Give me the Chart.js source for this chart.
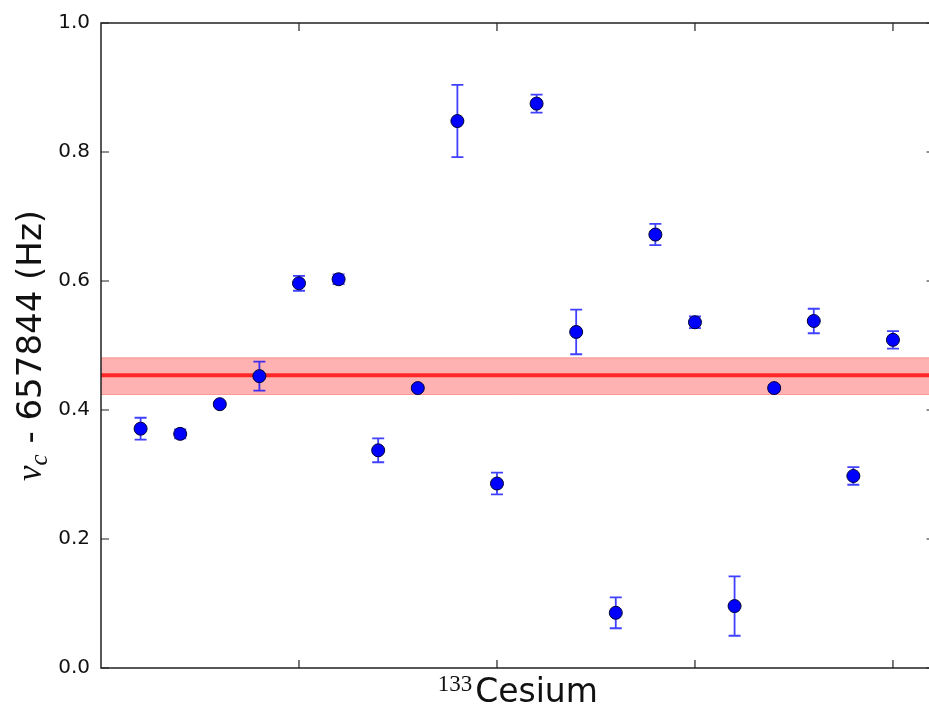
<!DOCTYPE html>
<html>
<head>
<meta charset="utf-8">
<script src="https://cdn.jsdelivr.net/npm/chart.js@4.4.1/dist/chart.umd.min.js"></script>
<style>
    html, body {
        margin: 0;
        padding: 0;
        overflow: hidden;
        background: #fff;
    }
    canvas {
        display: block;
    }
</style>
</head>
<body>
<canvas id="myChart" width="929" height="706"></canvas>
<script>
let runNumber = [1, 2, 3, 4, 5, 6, 7, 8, 9, 10, 11, 12, 13, 14, 15, 16, 17, 18, 19, 20];
let freqOffset = [0.371, 0.363, 0.409, 0.4525, 0.5965, 0.6027, 0.3375, 0.434, 0.848, 0.286,
    0.875, 0.521, 0.0856, 0.672, 0.536, 0.096, 0.434, 0.538, 0.2977, 0.5088];
let freqError = [0.017, 0.007, 0.003, 0.0225, 0.0116, 0.0075, 0.0185, 0.004, 0.056, 0.0168,
    0.014, 0.0346, 0.024, 0.0165, 0.009, 0.046, 0.005, 0.019, 0.0136, 0.0136];
let meanOffset = 0.454;
let bandLow = 0.424;
let bandHigh = 0.481;
// the original axes run to x = 21.05, but the picture is cut at about 20.91
let xRange = [0, 20.91];
let xAxisEnd = 21.05;
let xTicks = [5, 10, 15, 20];
let yTicks = [0, 0.2, 0.4, 0.6, 0.8, 1.0];

// error bars go under the markers
const errorBars = {
    id: 'errorBars',
    beforeDatasetDraw(chart, args) {
        if (args.index !== 0) return;
        let ctx = chart.ctx;
        let xs = chart.scales.x;
        let ys = chart.scales.y;
        ctx.save();
        ctx.strokeStyle = 'rgba(0, 0, 255, 0.75)';
        ctx.lineWidth = 1.8;
        for (let i = 0; i < runNumber.length; i++) {
            let px = xs.getPixelForValue(runNumber[i]);
            let top = ys.getPixelForValue(freqOffset[i] + freqError[i]);
            let bot = ys.getPixelForValue(freqOffset[i] - freqError[i]);
            ctx.beginPath();
            ctx.moveTo(px, top);
            ctx.lineTo(px, bot);
            ctx.moveTo(px - 6, top);
            ctx.lineTo(px + 6, top);
            ctx.moveTo(px - 6, bot);
            ctx.lineTo(px + 6, bot);
            ctx.stroke();
        }
        ctx.restore();
    }
};

// box, inward ticks and the two axis titles
const frameAndTitles = {
    id: 'frameAndTitles',
    afterDraw(chart) {
        let ctx = chart.ctx;
        let a = chart.chartArea;
        let xs = chart.scales.x;
        let ys = chart.scales.y;
        let right = xs.getPixelForValue(xAxisEnd);
        ctx.save();
        ctx.strokeStyle = '#222';
        ctx.lineWidth = 1.5;
        ctx.strokeRect(a.left, a.top, right - a.left, a.bottom - a.top);
        ctx.lineWidth = 1.2;
        ctx.beginPath();
        for (let v of yTicks) {
            let py = ys.getPixelForValue(v);
            ctx.moveTo(a.left, py);
            ctx.lineTo(a.left + 8, py);
            ctx.moveTo(right, py);
            ctx.lineTo(right - 8, py);
        }
        for (let v of xTicks) {
            let px = xs.getPixelForValue(v);
            ctx.moveTo(px, a.bottom);
            ctx.lineTo(px, a.bottom - 8);
            ctx.moveTo(px, a.top);
            ctx.lineTo(px, a.top + 8);
        }
        ctx.stroke();

        ctx.fillStyle = '#111';
        ctx.textBaseline = 'alphabetic';
        ctx.textAlign = 'left';

        // x title: superscript 133 + Cesium
        let supFont = '23px "Liberation Serif"';
        let mainFont = '33px "DejaVu Sans"';
        ctx.font = supFont;
        let wSup = ctx.measureText('133').width;
        ctx.font = mainFont;
        let wMain = ctx.measureText('Cesium').width;
        let cx = (a.left + right) / 2;
        let x0 = cx - (wSup + 3 + wMain) / 2;
        ctx.font = supFont;
        ctx.fillText('133', x0, 691);
        ctx.font = mainFont;
        ctx.fillText('Cesium', x0 + wSup + 3, 702);

        // y title: nu_c - 657844 (Hz), rotated
        let nuFont = 'italic 35px "Liberation Serif"';
        let subFont = 'italic 25px "Liberation Serif"';
        let restFont = '34px "DejaVu Sans"';
        let rest = ' - 657844 (Hz)';
        ctx.font = nuFont;
        let wNu = ctx.measureText('ν').width;
        ctx.font = subFont;
        let wC = ctx.measureText('c').width;
        ctx.font = restFont;
        let wRest = ctx.measureText(rest).width;
        let total = wNu + wC + wRest;
        let cy = (a.top + a.bottom) / 2;
        ctx.translate(41, cy);
        ctx.rotate(-Math.PI / 2);
        let s = -total / 2;
        ctx.font = nuFont;
        ctx.fillText('ν', s, 0);
        ctx.font = subFont;
        ctx.fillText('c', s + wNu, 6);
        ctx.font = restFont;
        ctx.fillText(rest, s + wNu + wC, 0);
        ctx.restore();
    }
};

const ctx = document.getElementById('myChart');
new Chart(ctx, {
    type: 'scatter',
    data: {
        datasets: [{
            label: 'measurements',
            data: runNumber.map((x, i) => ({ x: x, y: freqOffset[i] })),
            pointRadius: 6.5,
            pointHoverRadius: 6.5,
            backgroundColor: '#0000ff',
            borderColor: '#000033',
            borderWidth: 1
        }, {
            type: 'line',
            label: 'mean',
            data: [{ x: 0, y: meanOffset }, { x: xAxisEnd, y: meanOffset }],
            borderColor: 'rgb(255, 40, 40)',
            borderWidth: 4,
            pointRadius: 0,
            fill: false
        }, {
            type: 'line',
            label: 'band low',
            data: [{ x: 0, y: bandLow }, { x: xAxisEnd, y: bandLow }],
            borderColor: 'rgba(255, 0, 0, 0.3)',
            borderWidth: 1,
            pointRadius: 0,
            fill: false
        }, {
            type: 'line',
            label: 'band high',
            data: [{ x: 0, y: bandHigh }, { x: xAxisEnd, y: bandHigh }],
            borderColor: 'rgba(255, 0, 0, 0.3)',
            backgroundColor: 'rgba(255, 0, 0, 0.3)',
            borderWidth: 1,
            pointRadius: 0,
            fill: '-1'
        }]
    },
    options: {
        responsive: false,
        animation: false,
        devicePixelRatio: 1,
        layout: {
            autoPadding: false,
            padding: { top: 22, right: 0, left: 0, bottom: 0 }
        },
        plugins: {
            legend: { display: false },
            tooltip: { enabled: false }
        },
        scales: {
            x: {
                type: 'linear',
                min: xRange[0],
                max: xRange[1],
                grid: { display: false, drawTicks: false },
                border: { display: false },
                ticks: { display: false },
                afterFit(scale) { scale.height = 38; }
            },
            y: {
                min: 0,
                max: 1,
                grid: { display: false, drawTicks: false },
                border: { display: false },
                ticks: {
                    stepSize: 0.2,
                    padding: 11,
                    color: '#111',
                    font: { family: 'DejaVu Sans', size: 20 },
                    callback: (v) => v.toFixed(1)
                },
                afterFit(scale) { scale.width = 101; }
            }
        }
    },
    plugins: [errorBars, frameAndTitles]
});
</script>
</body>
</html>
